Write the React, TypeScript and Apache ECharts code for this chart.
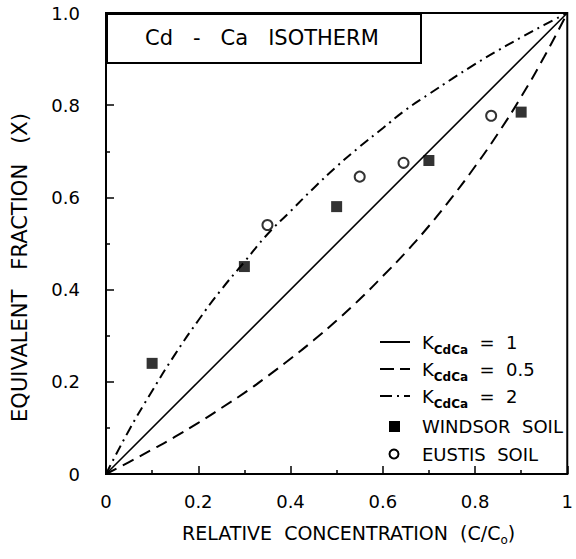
import React, { useEffect, useRef } from "react";
import * as echarts from "echarts";

// Relative concentration C/Co sampled along the curves
const cGrid = [0, 0.05, 0.1, 0.15, 0.2, 0.25, 0.3, 0.35, 0.4, 0.45, 0.5, 0.55, 0.6, 0.65, 0.7, 0.75, 0.8, 0.85, 0.9, 0.95, 1];
// K_CdCa = 1 (straight line)
const k1X = [0, 1];
const k1Y = [0, 1];
// K_CdCa = 0.5 (dashed)
const k05Y = [0, 0.026, 0.053, 0.081, 0.111, 0.143, 0.176, 0.212, 0.25, 0.29, 0.333, 0.379, 0.429, 0.481, 0.538, 0.6, 0.667, 0.739, 0.818, 0.905, 1];
// K_CdCa = 2 (dash-dot)
const k2Y = [0, 0.095, 0.18, 0.26, 0.333, 0.4, 0.46, 0.52, 0.57, 0.62, 0.667, 0.71, 0.75, 0.79, 0.824, 0.857, 0.889, 0.919, 0.947, 0.974, 1];
// Windsor soil (filled squares)
const windsorX = [0.1, 0.3, 0.5, 0.7, 0.9];
const windsorY = [0.24, 0.45, 0.58, 0.68, 0.785];
// Eustis soil (open circles)
const eustisX = [0.35, 0.55, 0.645, 0.835];
const eustisY = [0.54, 0.645, 0.675, 0.777];
// Tick labels
const xTickLabels: Record<string, string> = { "0": "0", "0.2": "0.2", "0.4": "0.4", "0.6": "0.6", "0.8": "0.8", "1": "1" };
const yTickLabels: Record<string, string> = { "0": "0", "0.2": "0.2", "0.4": "0.4", "0.6": "0.6", "0.8": "0.8", "1": "1.0" };
// Legend entries
const legendTexts = [
  "{k|K}{s|CdCa}{k|  =  1}",
  "{k|K}{s|CdCa}{k|  =  0.5}",
  "{k|K}{s|CdCa}{k|  =  2}",
  "{k|WINDSOR  SOIL}",
  "{k|EUSTIS  SOIL}",
];

const FONT = "DejaVu Sans";

export default function App() {
  const ref = useRef<HTMLDivElement>(null);
  useEffect(() => {
    document.body.style.margin = "0";
    if (!ref.current) return;
    const chart = echarts.init(ref.current, null, { renderer: "svg" });
    const zip = (xs: number[], ys: number[]) => xs.map((x, i) => [x, ys[i]]);

    const rowY = [342, 369, 396, 426, 454];
    const lx0 = 380, lx1 = 410, tx = 422;
    const rich = {
      k: { fontFamily: FONT, fontSize: 18, fill: "#000", lineHeight: 22 },
      s: { fontFamily: FONT, fontSize: 12, fontWeight: "bold", fill: "#000", verticalAlign: "bottom", lineHeight: 28 },
    };
    const legendGraphics: any[] = [
      { type: "line", shape: { x1: lx0, y1: rowY[0], x2: lx1, y2: rowY[0] }, style: { stroke: "#000", lineWidth: 2 } },
      { type: "line", shape: { x1: lx0, y1: rowY[1], x2: lx1, y2: rowY[1] }, style: { stroke: "#000", lineWidth: 2, lineDash: [14, 6] } },
      { type: "line", shape: { x1: lx0, y1: rowY[2], x2: lx1, y2: rowY[2] }, style: { stroke: "#000", lineWidth: 2, lineDash: [12, 5, 2, 5] } },
      { type: "rect", shape: { x: 389, y: rowY[3] - 5, width: 11, height: 11 }, style: { fill: "#000" } },
      { type: "circle", shape: { cx: 394, cy: rowY[4], r: 4.5 }, style: { fill: "#fff", stroke: "#000", lineWidth: 2 } },
      ...legendTexts.map((t, i) => ({
        type: "text", x: tx, y: rowY[i],
        style: { text: t, rich, textVerticalAlign: "middle", verticalAlign: "middle", align: "left", fontFamily: FONT },
      })),
    ];

    const option: any = {
      animation: false,
      backgroundColor: "#fff",
      textStyle: { fontFamily: FONT, color: "#000" },
      grid: {
        left: 106, top: 13, width: 470, height: 461,
        show: true, borderColor: "#000", borderWidth: 2, backgroundColor: "transparent",
      },
      xAxis: {
        type: "value", min: 0, max: 1, interval: 0.2,
        name: "RELATIVE  CONCENTRATION  (C/C{sub|o})",
        nameLocation: "middle", nameGap: 46,
        nameTextStyle: {
          fontFamily: FONT, fontSize: 19, color: "#000", padding: [0, 0, 0, 24],
          rich: { sub: { fontFamily: FONT, fontSize: 12, verticalAlign: "bottom", lineHeight: 26, color: "#000" } },
        },
        axisLine: { show: true, lineStyle: { color: "#000", width: 2 } },
        axisTick: { show: true, inside: true, length: 8, lineStyle: { color: "#000", width: 1.5 } },
        minorTick: { show: true, splitNumber: 2, length: 4, lineStyle: { color: "#000", width: 1.5 } },
        splitLine: { show: false },
        axisLabel: {
          margin: 18, fontFamily: FONT, fontSize: 18, color: "#000",
          formatter: (v: number) => xTickLabels[String(+v.toFixed(1))] ?? "",
        },
      },
      yAxis: {
        type: "value", min: 0, max: 1, interval: 0.2,
        name: "EQUIVALENT   FRACTION   (X)",
        nameLocation: "middle", nameGap: 76, nameRotate: 90,
        nameTextStyle: { fontFamily: FONT, fontSize: 21, color: "#000", padding: [0, 48, 0, 0] },
        axisLine: { show: true, lineStyle: { color: "#000", width: 2 } },
        axisTick: { show: true, inside: true, length: 8, lineStyle: { color: "#000", width: 1.5 } },
        minorTick: { show: true, splitNumber: 2, length: 4, lineStyle: { color: "#000", width: 1.5 } },
        splitLine: { show: false },
        axisLabel: {
          margin: 26, fontFamily: FONT, fontSize: 18, color: "#000",
          formatter: (v: number) => yTickLabels[String(+v.toFixed(1))] ?? "",
        },
      },
      graphic: [
        {
          type: "rect", left: 106, top: 13, z: 10,
          shape: { width: 314, height: 49 },
          style: { fill: "#fff", stroke: "#000", lineWidth: 2 },
        },
        {
          type: "text", left: 145, top: 27, z: 11,
          style: { text: "Cd   -   Ca   ISOTHERM", fontFamily: FONT, fontSize: 21, fill: "#000" },
        },
        ...legendGraphics,
      ],
      series: [
        {
          name: "K_CdCa = 1", type: "line", data: zip(k1X, k1Y), symbol: "none",
          lineStyle: { color: "#000", width: 1.6, type: "solid" }, itemStyle: { color: "#000" },
        },
        {
          name: "K_CdCa = 0.5", type: "line", data: zip(cGrid, k05Y), symbol: "none", smooth: true,
          lineStyle: { color: "#000", width: 2, type: [12, 7] }, itemStyle: { color: "#000" },
        },
        {
          name: "K_CdCa = 2", type: "line", data: zip(cGrid, k2Y), symbol: "none", smooth: true,
          lineStyle: { color: "#000", width: 2, type: [10, 5, 2, 5] }, itemStyle: { color: "#000" },
        },
        {
          name: "WINDSOR SOIL", type: "scatter", data: zip(windsorX, windsorY), symbol: "rect", symbolSize: 11,
          itemStyle: { color: "#000" }, z: 5,
        },
        {
          name: "EUSTIS SOIL", type: "scatter", data: zip(eustisX, eustisY), symbol: "circle", symbolSize: 10,
          itemStyle: { color: "#fff", borderColor: "#000", borderWidth: 2 }, z: 5,
        },
      ],
    };
    chart.setOption(option);
    return () => chart.dispose();
  }, []);
  return <div ref={ref} style={{ width: 576, height: 559 }} />;
}
